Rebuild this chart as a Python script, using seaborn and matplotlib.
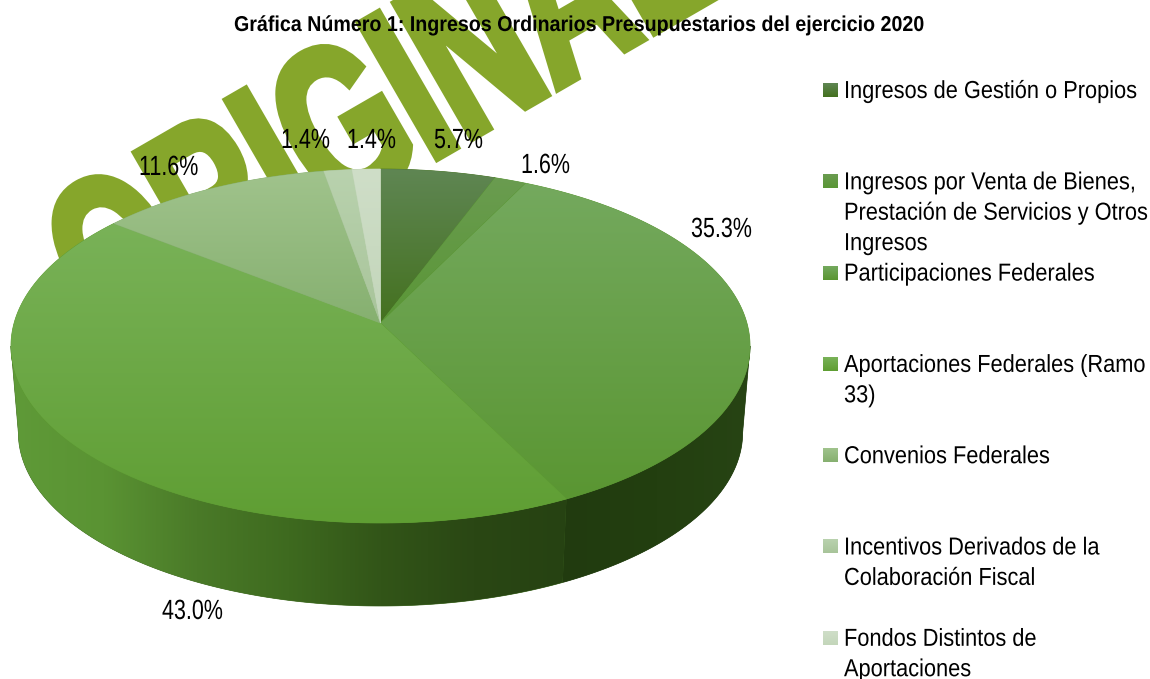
import numpy as np
import matplotlib
matplotlib.use("Agg")
import matplotlib.pyplot as plt
import matplotlib.patheffects as pe
from matplotlib.transforms import Affine2D
import seaborn as sns

# data
categories = ["Ingresos de Gestión o Propios",
              "Ingresos por Venta de Bienes,\nPrestación de Servicios y Otros\nIngresos",
              "Participaciones Federales",
              "Aportaciones Federales (Ramo\n33)",
              "Convenios Federales",
              "Incentivos Derivados de la\nColaboración Fiscal",
              "Fondos Distintos de\nAportaciones"]
shares = [5.7, 1.6, 35.3, 43.0, 11.6, 1.4, 1.4]

# gradients of each slice, top to bottom
top_colors = ["#5f8653", "#6a9c50", "#74a95e", "#79b258", "#a0c38c", "#b9d2ae", "#cfdec8"]
low_colors = ["#44711f", "#5a9636", "#5a9632", "#5f9e33", "#86b070", "#a8c49a", "#c3d6ba"]

# side wall of the two front slices, left to right
side_ramps = {2: ["#213b0f", "#233f10", "#274414"],
              3: ["#5f9a38", "#5a9333", "#4a7a28", "#3e6a1f", "#325518", "#2a4714", "#264212"]}

# layout of the pie in pixels
CX = 380.5
APEX_Y = 323
TILT = 0.13     # perspective of the disc
RX = 366.4
RY = 174
DEPTH = 87
SHRINK = 0.98   # the lower rim is slightly smaller

label_x = [434, 521, 691, 162, 139, 281, 347]
label_y = [148, 173, 237, 619, 175, 148, 148]


class Tall(pe.AbstractPathEffect):
    # the originals use a narrow font: keep the width of a smaller size and stretch it upward
    def __init__(self, sy, stroke=0):
        super().__init__()
        self.sy = sy
        self.stroke = stroke

    def draw_path(self, renderer, gc, tpath, affine, rgbFace=None):
        gc0 = renderer.new_gc()
        gc0.copy_properties(gc)
        if self.stroke:
            gc0.set_linewidth(self.stroke)
            gc0.set_foreground(rgbFace)
            gc0.set_joinstyle("miter")
        renderer.draw_path(gc0, tpath, Affine2D().scale(1, self.sy) + affine, rgbFace)
        gc0.restore()


def narrow_text(ax, x, y, s, size, sx, stroke=0, **kw):
    t = ax.text(x, y, s, fontsize=size * sx, ha="left", va="baseline", color=kw.pop("color", "black"), **kw)
    t.set_path_effects([Tall(1 / sx, stroke)])
    return t


def fit_ratio(s, size, width, **kw):
    # how much a text of this size has to shrink sideways to get this width in pixels
    probe = ax.text(0, 0, s, fontsize=size, **kw)
    ratio = width / probe.get_window_extent(renderer).width
    probe.remove()
    return ratio


def rim(theta, lower=False):
    th = np.radians(theta)
    w = 1 + TILT * np.cos(th)
    k = SHRINK if lower else 1.0
    y0 = APEX_Y + DEPTH if lower else APEX_Y
    return CX + k * RX * np.sin(th) / w, y0 - k * RY * np.cos(th) / w


def gradient_fill(ax, xs, ys, colors, horizontal, z):
    # flat polygon below for a smooth edge, gradient image clipped on top of it
    cmap = sns.blend_palette(colors, as_cmap=True)
    poly = ax.fill(xs, ys, color=colors[len(colors) // 2], lw=0.5, zorder=z)[0]
    ramp = np.linspace(0, 1, 256)
    ramp = ramp[None, :] if horizontal else ramp[:, None]
    im = ax.imshow(ramp, cmap=cmap, aspect="auto", zorder=z + 0.1,
                   extent=(xs.min(), xs.max(), ys.max(), ys.min()))
    im.set_clip_path(poly)


sns.set_theme(style="white")
plt.rcParams["font.family"] = ["Liberation Sans", "DejaVu Sans"]

fig = plt.figure(figsize=(11.5, 6.79), dpi=100)
ax = fig.add_axes([0, 0, 1, 1])
renderer = fig.canvas.get_renderer()

edges = np.concatenate([[0], np.cumsum(shares)]) / np.sum(shares) * 360

# side wall first, the top disc covers what is behind it
# only the part between the two silhouette angles of the disc can be seen
th_right = np.degrees(np.arccos(-TILT))
th_left = 360 - th_right
for i, ramp in side_ramps.items():
    th = np.linspace(max(edges[i], th_right), min(edges[i + 1], th_left), 200)
    x1, y1 = rim(th)
    x2, y2 = rim(th, lower=True)
    gradient_fill(ax, np.r_[x1, x2[::-1]], np.r_[y1, y2[::-1]], ramp, True, 2)

# top of the pie
for i in range(len(shares)):
    th = np.linspace(edges[i], edges[i + 1], 200)
    x1, y1 = rim(th)
    gradient_fill(ax, np.r_[CX, x1], np.r_[APEX_Y, y1], [top_colors[i], low_colors[i]], False, 3 + i * 0.2)

# watermark, below the pie and the texts
narrow_text(ax, 107, 348.5, "ORIGINAL", 162, 0.647, stroke=5.8, color="#86a62b", fontweight="bold",
            rotation=30, rotation_mode="anchor", zorder=1)

# title
title_text = "Gráfica Número 1: Ingresos Ordinarios Presupuestarios del ejercicio 2020"
narrow_text(ax, 234, 31, title_text, 15.5, fit_ratio(title_text, 15.5, 691, fontweight="bold"),
            fontweight="bold", zorder=6)

# percent labels
label_sx = fit_ratio("35.3%", 20, 61)
for i, v in enumerate(shares):
    narrow_text(ax, label_x[i], label_y[i], f"{v:.1f}%", 20, label_sx, zorder=6)

# legend, one block every 91 px
legend_sx = fit_ratio(categories[0], 17.7, 293)
for i, name in enumerate(categories):
    base = 98 + i * 91.3
    ax.imshow(np.linspace(0, 1, 32)[:, None], aspect="auto", zorder=5,
              cmap=sns.blend_palette([top_colors[i], low_colors[i]], as_cmap=True),
              extent=(823, 838, base - 1, base - 15))
    for k, line in enumerate(name.split("\n")):
        narrow_text(ax, 844, base + k * 30.4, line, 17.7, legend_sx, zorder=6)

ax.set_xlim(0, 1150)
ax.set_ylim(679, 0)
ax.axis("off")
fig.savefig("out.png", dpi=100, facecolor="white")
